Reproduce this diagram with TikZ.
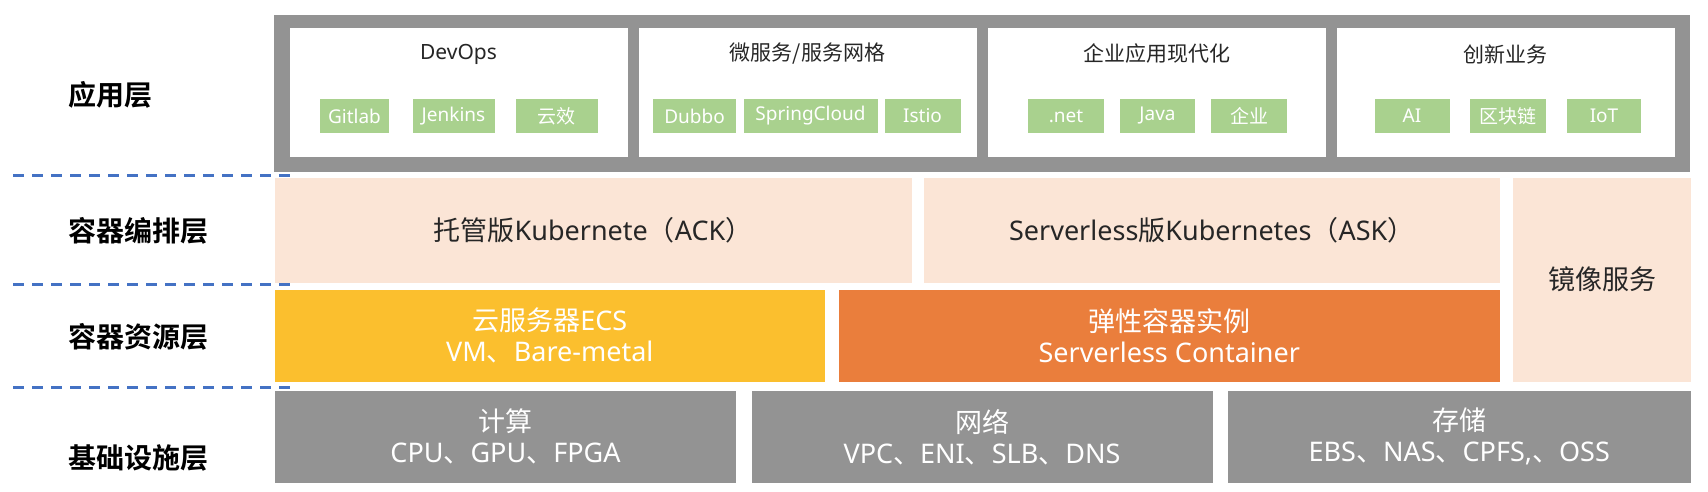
\documentclass[tikz,border=0pt]{standalone}
\usepackage{fontspec}
\setmainfont{Noto Sans}
\newfontfamily\zh{Noto Sans CJK SC}[BoldFont={Noto Sans CJK SC Bold}]
\newcommand\Z[1]{{\zh #1}}
\definecolor{gframe}{HTML}{939393}
\definecolor{pillg}{HTML}{A9D18E}
\definecolor{pinkc}{HTML}{FBE5D6}
\definecolor{yelc}{HTML}{FBBF2E}
\definecolor{orac}{HTML}{EA7E3C}
\definecolor{dashc}{HTML}{4472C4}
\definecolor{txtc}{HTML}{262626}
\begin{document}
\begin{tikzpicture}[x=1pt,y=-1pt,
  every node/.style={inner sep=0pt,outer sep=0pt},
  framebox/.style={fill=gframe,minimum width=1416pt,minimum height=156.5pt},
  wbox/.style={fill=white,minimum width=338pt,minimum height=128.5pt},
  ttl/.style={text=txtc,font=\fontsize{21}{24}\selectfont},
  pill/.style={fill=pillg,minimum height=33.5pt,text=white,font=\fontsize{19}{22}\selectfont},
  layer/.style={anchor=west,text=black,font={\zh\bfseries\fontsize{28}{32}\selectfont}},
  bigtxt/.style={align=center,font=\fontsize{27}{31}\selectfont},
  pinkbox/.style={fill=pinkc,text=txtc,bigtxt},
  rowthree/.style={minimum height=91.5pt,text=white,bigtxt},
  graybox/.style={fill=gframe,minimum height=91.5pt,text=white,bigtxt},
  dashln/.style={draw=dashc,line width=2.5pt,dash pattern=on 11pt off 8pt}]
\useasboundingbox (0,0) rectangle (1708,492);

% application layer
\node[framebox] (frame) at (982,93.25) {};
\node[wbox] (devops) at (458.5,92.75) {};
\node[wbox] (micro) at (807.5,92.75) {};
\node[wbox] (ent) at (1156.5,92.75) {};
\node[wbox] (inno) at (1505.5,92.75) {};
\node[ttl] (t1) at (458.5,54) {DevOps};
\node[ttl] (t2) at (807.5,54) {\Z{微服务/服务网格}};
\node[ttl] (t3) at (1156.5,54) {\Z{企业应用现代化}};
\node[ttl] (t4) at (1505.5,54) {\Z{创新业务}};

\node[pill,minimum width=69pt] (p1) at (354.5,116) {Gitlab};
\node[pill,minimum width=82pt] (p2) at (453.5,116) {Jenkins};
\node[pill,minimum width=82pt] (p3) at (556.5,116) {\Z{云效}};
\node[pill,minimum width=83pt] (p4) at (694.5,116) {Dubbo};
\node[pill,minimum width=134pt] (p5) at (810.5,116) {SpringCloud};
\node[pill,minimum width=76pt] (p6) at (922.5,116) {Istio};
\node[pill,minimum width=76pt] (p7) at (1066,116) {.net};
\node[pill,minimum width=75pt] (p8) at (1157.5,116) {Java};
\node[pill,minimum width=76pt] (p9) at (1249,116) {\Z{企业}};
\node[pill,minimum width=75pt] (p10) at (1412,116) {AI};
\node[pill,minimum width=76pt] (p11) at (1507.5,116) {\Z{区块链}};
\node[pill,minimum width=74pt] (p12) at (1604,116) {IoT};

% orchestration layer
\node[pinkbox,minimum width=637pt,minimum height=105pt] (ack) at (593,230)
  {\Z{托管版}Kubernete\Z{（}ACK\Z{）}};
\node[pinkbox,minimum width=575.5pt,minimum height=105pt] (ask) at (1211.75,230)
  {Serverless\Z{版}Kubernetes\Z{（}ASK\Z{）}};
\node[pinkbox,minimum width=178pt,minimum height=204pt] (img) at (1602,279.5)
  {\Z{镜像服务}};

% resource layer
\node[rowthree,fill=yelc,minimum width=550.5pt] (ecs) at (549.75,335.75)
  {\Z{云服务器}ECS\\VM\Z{、}Bare-metal};
\node[rowthree,fill=orac,minimum width=660.5pt] (eci) at (1169.25,335.75)
  {\Z{弹性容器实例}\\Serverless Container};

% infrastructure layer
\node[graybox,minimum width=461pt] (comp) at (505.5,436.75)
  {\Z{计算}\\CPU\Z{、}GPU\Z{、}FPGA};
\node[graybox,minimum width=461pt] (net) at (982,436.75)
  {\Z{网络}\\VPC\Z{、}ENI\Z{、}SLB\Z{、}DNS};
\node[graybox,minimum width=463.5pt] (stor) at (1459.25,436.75)
  {\Z{存储}\\EBS\Z{、}NAS\Z{、}CPFS,\Z{、}OSS};

% layer labels
\node[layer] (l1) at (68,95) {应用层};
\node[layer] (l2) at (68,231) {容器编排层};
\node[layer] (l3) at (68,337) {容器资源层};
\node[layer] (l4) at (68,458) {基础设施层};

% dashed separators
\coordinate (d1a) at (13,175.5); \coordinate (d1b) at (294,175.5);
\coordinate (d2a) at (13,284.5); \coordinate (d2b) at (294,284.5);
\coordinate (d3a) at (13,387.5); \coordinate (d3b) at (294,387.5);
\draw[dashln] (d1a) -- (d1b);
\draw[dashln] (d2a) -- (d2b);
\draw[dashln] (d3a) -- (d3b);
\end{tikzpicture}
\end{document}
